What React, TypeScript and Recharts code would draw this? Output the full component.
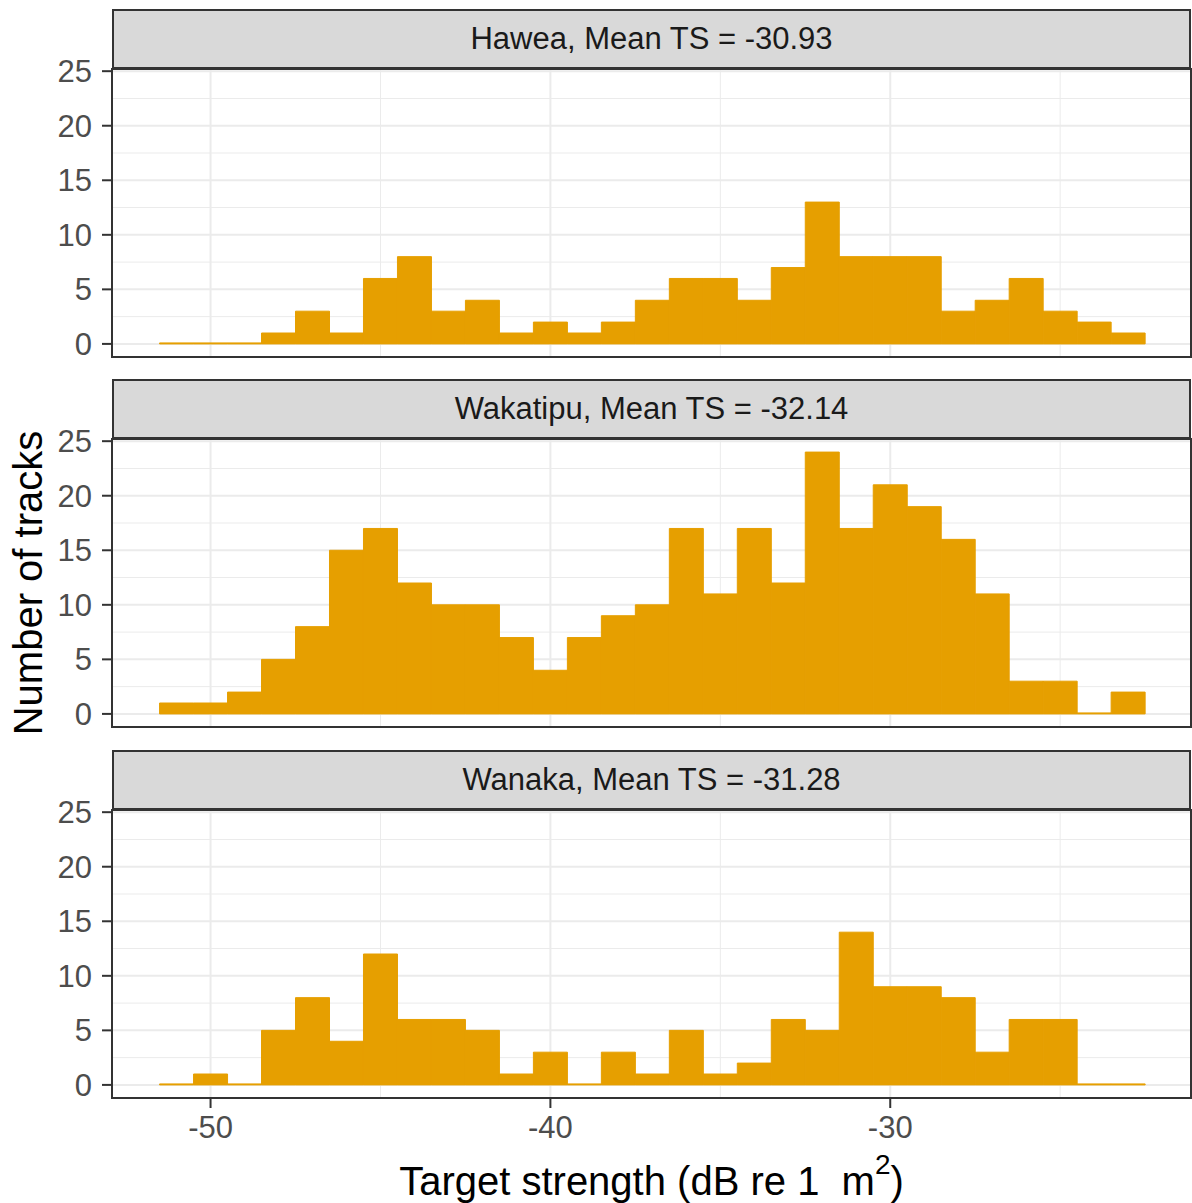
import React from "react";
import { BarChart, Bar, XAxis, YAxis, CartesianGrid, ReferenceArea } from "recharts";

// target strength bins (1 dB wide), labelled by their centres
const binCentres = [
  -51, -50, -49, -48, -47, -46, -45, -44, -43, -42, -41, -40, -39, -38, -37,
  -36, -35, -34, -33, -32, -31, -30, -29, -28, -27, -26, -25, -24, -23,
];

const haweaCounts = [0, 0, 0, 1, 3, 1, 6, 8, 3, 4, 1, 2, 1, 2, 4, 6, 6, 4, 7, 13, 8, 8, 8, 3, 4, 6, 3, 2, 1];
const wakatipuCounts = [1, 1, 2, 5, 8, 15, 17, 12, 10, 10, 7, 4, 7, 9, 10, 17, 11, 17, 12, 24, 17, 21, 19, 16, 11, 3, 3, 0, 2];
const wanakaCounts = [0, 1, 0, 5, 8, 4, 12, 6, 6, 5, 1, 3, 0, 3, 1, 5, 1, 2, 6, 5, 14, 9, 9, 8, 3, 6, 6, 0, 0];

const lakeNames = ["Hawea", "Wakatipu", "Wanaka"];
const meanTS = ["-30.93", "-32.14", "-31.28"];

const xTicks = [-50, -40, -30];
const xMinorTicks = [-45, -35, -25];
const yTicks = [0, 5, 10, 15, 20, 25];
const yMinorTicks = [2.5, 7.5, 12.5, 17.5, 22.5];

const X_DOMAIN: [number, number] = [-52.9, -21.15];
const Y_DOMAIN: [number, number] = [-1.2, 25.2];

const FILL = "#E69F00";
const PLOT_LEFT = 112;
const PLOT_W = 1079;
const STRIP_H = 60;
const PLOT_H = 288;
const FIRST_TOP = 68.5;
const STEP = 370.5;
const PAD = 20; // room above/below the plot so edge tick labels are not clipped

const toRows = (counts: number[]) => binCentres.map((x, i) => ({ x, n: counts[i] }));
const panels = [haweaCounts, wakatipuCounts, wanakaCounts].map((c, i) => ({
  title: `${lakeNames[i]}, Mean TS = ${meanTS[i]}`,
  rows: toRows(c),
}));

const tickStyle = { fill: "#4D4D4D", fontSize: 31 };
const tickLineStyle = { stroke: "#333333", strokeWidth: 2 };

const Panel = ({ title, rows, top, last }: { title: string; rows: { x: number; n: number }[]; top: number; last: boolean }) => (
  <>
    <div
      style={{
        position: "absolute",
        left: PLOT_LEFT,
        top: top - STRIP_H,
        width: PLOT_W,
        height: STRIP_H,
        boxSizing: "border-box",
        background: "#D9D9D9",
        border: "2px solid #333333",
        display: "flex",
        alignItems: "center",
        justifyContent: "center",
        fontSize: 31,
        color: "#1A1A1A",
      }}
    >
      {title}
    </div>
    <div style={{ position: "absolute", left: 0, top: top - PAD }}>
      <BarChart
        width={1192}
        height={PLOT_H + PAD + (last ? 50 : PAD)}
        data={rows}
        margin={{ top: PAD, right: 1, bottom: last ? 0 : PAD, left: 0 }}
        barCategoryGap={0}
        barGap={0}
      >
        <CartesianGrid stroke="#EBEBEB" strokeWidth={1} verticalValues={xMinorTicks} horizontalValues={yMinorTicks} />
        <CartesianGrid stroke="#EBEBEB" strokeWidth={2} verticalValues={xTicks} horizontalValues={yTicks} />
        <XAxis
          type="number"
          dataKey="x"
          domain={X_DOMAIN}
          ticks={xTicks}
          interval={0}
          allowDataOverflow
          hide={!last}
          height={50}
          axisLine={false}
          tickSize={10}
          tickMargin={8}
          tick={tickStyle}
          tickLine={tickLineStyle}
        />
        <YAxis
          type="number"
          domain={Y_DOMAIN}
          ticks={yTicks}
          interval={0}
          allowDataOverflow
          width={PLOT_LEFT}
          axisLine={false}
          tickSize={10}
          tickMargin={10}
          tick={tickStyle}
          tickLine={tickLineStyle}
        />
        <Bar dataKey="n" fill={FILL} stroke={FILL} strokeWidth={1} minPointSize={1} isAnimationActive={false} />
        <ReferenceArea
          x1={X_DOMAIN[0]}
          x2={X_DOMAIN[1]}
          y1={Y_DOMAIN[0]}
          y2={Y_DOMAIN[1]}
          fill="none"
          fillOpacity={0}
          stroke="#333333"
          strokeWidth={2}
          ifOverflow="visible"
        />
      </BarChart>
    </div>
  </>
);

export default function App() {
  return (
    <div
      style={{
        position: "absolute",
        left: 0,
        top: 0,
        width: 1192,
        height: 1203,
        background: "#FFFFFF",
        fontFamily: "'Liberation Sans', Arial, sans-serif",
        overflow: "hidden",
      }}
    >
      {panels.map((p, i) => (
        <Panel key={p.title} title={p.title} rows={p.rows} top={FIRST_TOP + i * STEP} last={i === panels.length - 1} />
      ))}
      <div
        style={{
          position: "absolute",
          left: 28,
          top: 583,
          transform: "translate(-50%, -50%) rotate(-90deg)",
          whiteSpace: "nowrap",
          fontSize: 40,
          lineHeight: 1,
          color: "#000000",
        }}
      >
        Number of tracks
      </div>
      <div
        style={{
          position: "absolute",
          left: PLOT_LEFT,
          top: 1161,
          width: PLOT_W,
          textAlign: "center",
          whiteSpace: "pre",
          fontSize: 40,
          lineHeight: 1,
          color: "#000000",
        }}
      >
        Target strength (dB re 1  m
        <sup style={{ fontSize: 28, lineHeight: 0, verticalAlign: "0.75em" }}>2</sup>)
      </div>
    </div>
  );
}
